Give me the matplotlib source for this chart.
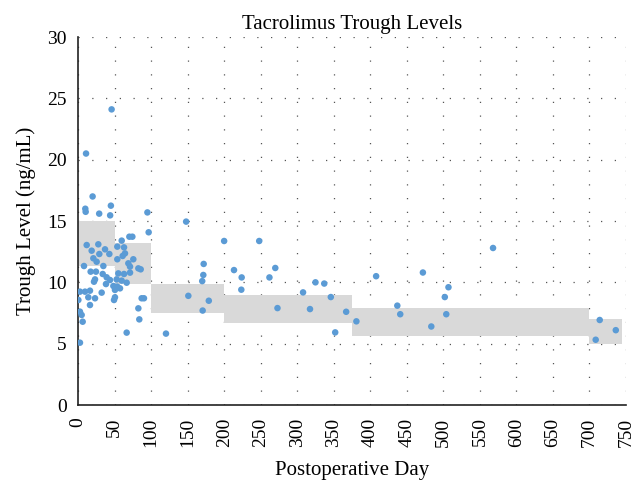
import matplotlib
matplotlib.use("Agg")
import matplotlib.pyplot as plt

plt.rcParams["font.family"] = "Liberation Serif"

# measured tacrolimus troughs (day, ng/mL)
days = [
    96.7, 70.3, 74.4, 59.8, 11.9, 27.8, 18.7, 53.8, 63.0, 37.0,
    29.2, 42.9, 64.3, 61.1, 21.0, 25.5, 53.8, 75.7, 34.7, 8.2,
    68.9, 71.2, 82.6, 85.8, 17.3, 24.6, 33.8, 55.2, 63.0, 71.2,
    23.3, 21.9, 39.2, 43.8, 52.9, 59.8, 66.6, 38.3, 48.4, 53.8,
    57.5, 50.6, 2.7, 9.6, 16.4, 32.4, 0.5, 14.1, 23.3, 50.6,
    49.3, 87.1, 90.3, 2.7, 5.0, 16.4, 82.6, 6.4, 83.9, 66.6,
    120.4, 2.7,
    46, 11, 20, 10, 10.5, 29, 45, 44, 95,
    148, 200, 248, 172, 171.5, 170, 151, 179, 170.6, 213.5,
    224, 223.5, 270, 262, 273, 308, 325, 337, 317.5, 346,
    367, 381, 352, 408, 437, 441,
    472, 483.5, 507, 502, 504, 568, 714, 708.5, 736,
]
levels = [
    14.08, 13.72, 13.72, 13.40, 13.04, 13.10, 12.58, 12.91, 12.85, 12.69,
    12.31, 12.31, 12.36, 12.15, 11.96, 11.68, 11.88, 11.88, 11.33, 11.33,
    11.55, 11.28, 11.14, 11.06, 10.87, 10.87, 10.68, 10.73, 10.68, 10.79,
    10.24, 10.05, 10.41, 10.19, 10.24, 10.14, 9.97, 9.86, 9.70, 9.65,
    9.51, 9.38, 9.24, 9.24, 9.32, 9.16, 8.56, 8.78, 8.70, 8.78,
    8.56, 8.70, 8.70, 7.61, 7.34, 8.15, 7.88, 6.79, 6.98, 5.90,
    5.82, 5.08,
    24.1, 20.5, 17.0, 16.0, 15.75, 15.6, 16.25, 15.46, 15.7,
    14.95, 13.37, 13.37, 11.5, 10.6, 10.1, 8.9, 8.5, 7.7, 11.0,
    10.4, 9.4, 11.17, 10.4, 7.9, 9.18, 10.0, 9.9, 7.82, 8.8,
    7.6, 6.82, 5.92, 10.5, 8.1, 7.4,
    10.8, 6.4, 9.6, 8.8, 7.4, 12.8, 6.93, 5.32, 6.1,
]

# target range bands: start day, end day, low, high
band_start = [0, 50, 100, 200, 375, 700]
band_end = [50, 100, 200, 375, 700, 745]
band_low = [11.3, 9.9, 7.5, 6.7, 5.6, 4.95]
band_high = [15.0, 13.2, 9.85, 9.0, 7.93, 7.0]

fig = plt.figure(figsize=(6.43, 5.0), dpi=100)
ax = fig.add_axes([0.1213, 0.19, 0.8523, 0.736])

for x0, x1, lo, hi in zip(band_start, band_end, band_low, band_high):
    ax.fill_between([x0, x1], lo, hi, color="#d9d9d9", lw=0, zorder=1)

ax.scatter(days, levels, s=22, color="#5b9bd5", edgecolors="none", zorder=3)

ax.set_xlim(0, 750)
ax.set_ylim(0, 30)
ax.set_xticks(range(0, 751, 50))
ax.set_yticks(range(0, 31, 5))
ax.tick_params(length=0, labelsize=14)
ax.tick_params(axis="y", pad=8)
ax.tick_params(axis="x", labelrotation=90, pad=9)
ax.grid(True, color="#555555", linestyle=(0, (1, 10)), linewidth=0.9, zorder=0)
ax.set_axisbelow(True)

for side in ["top", "right"]:
    ax.spines[side].set_visible(False)
for side in ["left", "bottom"]:
    ax.spines[side].set_linewidth(1.2)
    ax.spines[side].set_color("#222222")

ax.set_title("Tacrolimus Trough Levels", fontsize=15, pad=6)
ax.set_xlabel("Postoperative Day", fontsize=15, labelpad=10)
ax.set_ylabel("Trough Level (ng/mL)", fontsize=15, labelpad=8)

fig.savefig("out.png", dpi=100)
